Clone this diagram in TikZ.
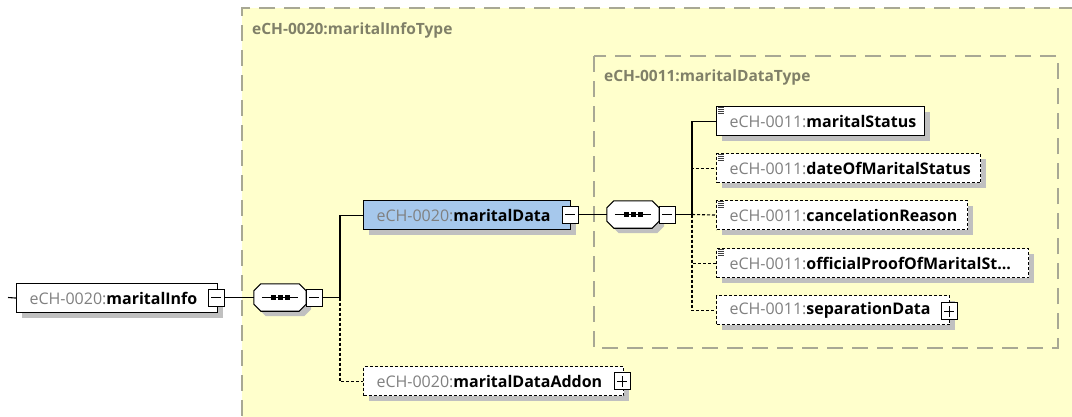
\documentclass[tikz,border=0pt]{standalone}
\usepackage{fontspec}
\setmainfont{Open Sans}
\usetikzlibrary{calc,shadows}
\definecolor{yel}{RGB}{255,255,204}
\definecolor{frame}{RGB}{168,168,148}
\definecolor{lbl}{RGB}{128,128,104}
\definecolor{pre}{RGB}{128,128,128}
\definecolor{shcol}{RGB}{192,192,192}
\definecolor{blu}{RGB}{166,200,236}
\newcommand\octpath[3]{($(#1.north west)+(7+#2,#3)$) -- ($(#1.north east)+(-7+#2,#3)$) -- ($(#1.north east)+(#2,7+#3)$) -- ($(#1.south east)+(#2,-7+#3)$) -- ($(#1.south east)+(-7+#2,#3)$) -- ($(#1.south west)+(7+#2,#3)$) -- ($(#1.south west)+(#2,-7+#3)$) -- ($(#1.north west)+(#2,7+#3)$) -- cycle}
\newcommand\docicon[1]{\foreach \k in {1.5,3.5,5.5,7.5}{\draw[line width=0.8pt,black!75] ($(#1.north west)+(2,\k)$) -- +(6,0);}}
\newcommand\seqinside[1]{%
  \draw[line width=1pt] ($(#1.west)+(8,0)$) -- ($(#1.east)+(-8,0)$);
  \foreach \d in {-7,0,7}{\fill ($(#1.center)+(\d-2.5,-2.5)$) rectangle +(5,5);}}
\newcommand\ename[2]{\mbox{\textcolor{pre}{#1}\textbf{#2}}}
\tikzset{
  elem/.style={draw=black, line width=1.1pt, fill=white, rectangle, anchor=north west,
    inner xsep=13pt, inner ysep=0pt, minimum height=29pt, align=left,
    font=\fontsize{16}{19}\selectfont,
    drop shadow={shadow xshift=5pt, shadow yshift=-5pt, fill=shcol, opacity=1}},
  optional/.style={dash pattern=on 3pt off 2pt},
  seqnode/.style={rectangle, draw=none, inner sep=0pt, minimum width=52pt, minimum height=27pt},
  mbox/.style={draw=black, line width=1pt, fill=white, rectangle, inner sep=0pt,
    minimum width=16pt, minimum height=17pt,
    path picture={\draw[line width=1pt] ([xshift=3pt]path picture bounding box.west) -- ([xshift=-3pt]path picture bounding box.east);}},
  pbox/.style={mbox,
    path picture={\draw[line width=1pt] ([xshift=3pt]path picture bounding box.west) -- ([xshift=-3pt]path picture bounding box.east);
      \draw[line width=1pt] ([yshift=3pt]path picture bounding box.south) -- ([yshift=-3pt]path picture bounding box.north);}},
  conn/.style={line width=1.1pt, black},
  typebox/.style={draw=frame, line width=1.6pt, dash pattern=on 16pt off 9pt},
  typelbl/.style={anchor=west, text=lbl, font=\fontsize{15.5}{18}\selectfont\bfseries, inner sep=0pt}
}
\begin{document}
\begin{tikzpicture}[x=1pt,y=-1pt]
\clip (0,0) rectangle (1072,416);
\fill[white] (0,0) rectangle (1072,416);
% outer type region
\fill[yel] (242,8) rectangle (1100,440);
\draw[typebox] (1100,8) -- (242,8) -- (242,440);
\node[typelbl] (t1) at (252,30) {eCH-0020:maritalInfoType};
% inner type region
\draw[typebox] (594,56) rectangle (1058,348);
\node[typelbl] (t2) at (604,77) {eCH-0011:maritalDataType};

% maritalInfo
\node[elem, text width=175pt] (mi) at (16,283) {\ename{eCH-0020:}{maritalInfo}};
\node[mbox] (mim) at (216,297.5) {};
\coordinate (lead) at (8,297.5);
\draw[conn] (lead) -- (mi.west);

% sequence 1
\node[seqnode] (s1) at (280,297.5) {};
\fill[shcol] \octpath{s1}{5}{5};
\draw[line width=1.1pt, fill=white] \octpath{s1}{0}{0};
\seqinside{s1}
\node[mbox] (s1m) at (314,297.5) {};
\draw[conn] (mim.east) -- (s1.west);
\coordinate (j1) at (340,297.5);
\draw[conn] (s1m.east) -- (j1);

% maritalData
\node[elem, fill=blu, text width=181pt] (md) at (363,200) {\ename{eCH-0020:}{maritalData}};
\node[mbox] (mdm) at (570,214.5) {};
\draw[conn] (j1) |- (md.west);

% maritalDataAddon
\node[elem, optional, text width=234pt] (add) at (363,366) {\ename{eCH-0020:}{maritalDataAddon}};
\node[pbox] (addp) at (622,381) {};
\draw[conn, optional] (j1) |- (add.west);

% sequence 2
\node[seqnode] (s2) at (633,214.5) {};
\fill[shcol] \octpath{s2}{5}{5};
\draw[line width=1.1pt, fill=white] \octpath{s2}{0}{0};
\seqinside{s2}
\node[mbox] (s2m) at (667,214.5) {};
\draw[conn] (mdm.east) -- (s2.west);
\coordinate (j2) at (692,214.5);
\draw[conn] (s2m.east) -- (j2);

% children
\node[elem, text width=182pt] (c1) at (716,106) {\ename{eCH-0011:}{maritalStatus}};
\node[elem, optional, text width=238pt] (c2) at (716,153) {\ename{eCH-0011:}{dateOfMaritalStatus}};
\node[elem, optional, text width=225pt] (c3) at (716,200) {\ename{eCH-0011:}{cancelationReason}};
\node[elem, optional, text width=286pt] (c4) at (716,248) {\ename{eCH-0011:}{officialProofOfMaritalSt...}};
\node[elem, optional, text width=207pt] (c5) at (716,295) {\ename{eCH-0011:}{separationData}};
\node[pbox] (c5p) at (949,311) {};
\docicon{c1}
\docicon{c2}
\docicon{c3}
\docicon{c4}

\draw[conn] (j2) |- (c1.west);
\draw[conn, optional] (j2) |- (c2.west);
\draw[conn, optional] (j2) -- (c3.west);
\draw[conn, optional] (j2) |- (c4.west);
\draw[conn, optional] (j2) |- (c5.west);
\end{tikzpicture}
\end{document}
